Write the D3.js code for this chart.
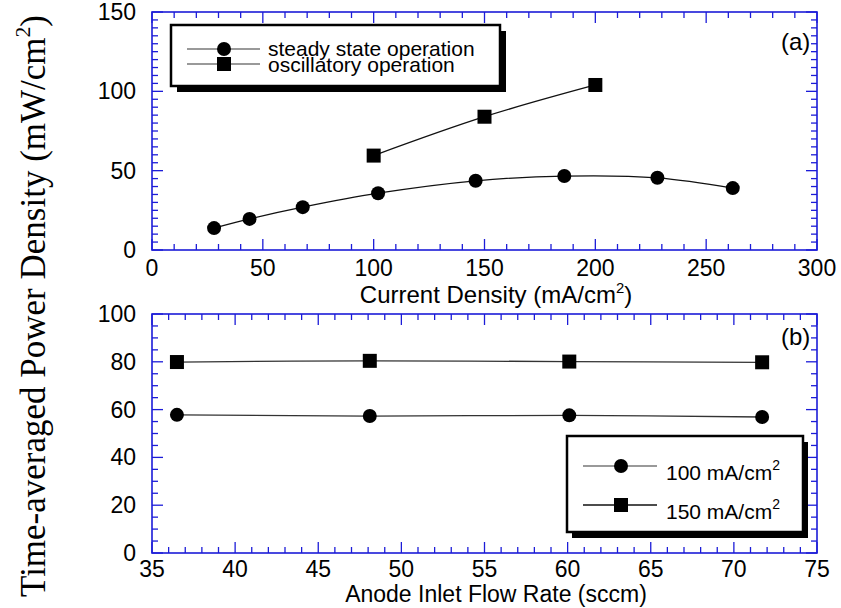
<!DOCTYPE html>
<html><head><meta charset="utf-8">
<script src="https://cdn.jsdelivr.net/npm/d3@7"></script>
<style>body{margin:0;background:#fff}svg{display:block}text{font-family:"Liberation Sans",Arial,sans-serif}</style>
</head><body>
<svg id="c" width="841" height="608"></svg>
<script>
// ---- data ----
const aSteadyX = [28, 44, 68, 102, 146, 186, 228, 262];
const aSteadyY = [13.8, 19.6, 27.0, 35.8, 43.6, 46.6, 45.5, 39.0];
const aOscX = [100, 150, 200];
const aOscY = [59.5, 84.0, 104.0];
const bFlow = [36.5, 48.1, 60.1, 71.7];
const b100 = [57.8, 57.3, 57.6, 56.9];
const b150 = [79.9, 80.4, 80.1, 79.8];
const aXTicks = [0, 50, 100, 150, 200, 250, 300];
const aYTicks = [0, 50, 100, 150];
const bXTicks = [35, 40, 45, 50, 55, 60, 65, 70, 75];
const bYTicks = [0, 20, 40, 60, 80, 100];
const legendA = ["steady state operation", "oscillatory operation"];
const legendB = ["100 mA/cm", "150 mA/cm"];

const svg = d3.select("#c");
const BLUE = "#1c1cd8";
const L = 152, R = 817;

function panel(cfg) {
  const x = d3.scaleLinear().domain(cfg.xd).range([L, R]);
  const y = d3.scaleLinear().domain(cfg.yd).range([cfg.bot, cfg.top]);
  const g = svg.append("g");
  const majX = cfg.xt, majY = cfg.yt;
  const minX = d3.range(cfg.xd[0], cfg.xd[1] + 1e-9, cfg.xm);
  const minY = d3.range(cfg.yd[0], cfg.yd[1] + 1e-9, cfg.ym);
  const isMaj = (arr, v) => arr.some(a => Math.abs(a - v) < 1e-6);
  minX.forEach(v => {
    const len = isMaj(majX, v) ? 11 : 6;
    g.append("line").attr("x1", x(v)).attr("x2", x(v)).attr("y1", cfg.bot).attr("y2", cfg.bot - len).attr("stroke", BLUE).attr("stroke-width", 1.3);
    g.append("line").attr("x1", x(v)).attr("x2", x(v)).attr("y1", cfg.top).attr("y2", cfg.top + len).attr("stroke", BLUE).attr("stroke-width", 1.3);
  });
  minY.forEach(v => {
    const len = isMaj(majY, v) ? 11 : 6;
    g.append("line").attr("y1", y(v)).attr("y2", y(v)).attr("x1", L).attr("x2", L + len).attr("stroke", BLUE).attr("stroke-width", 1.3);
    g.append("line").attr("y1", y(v)).attr("y2", y(v)).attr("x1", R).attr("x2", R - len).attr("stroke", BLUE).attr("stroke-width", 1.3);
  });
  g.append("rect").attr("x", L).attr("y", cfg.top).attr("width", R - L).attr("height", cfg.bot - cfg.top)
    .attr("fill", "none").attr("stroke", BLUE).attr("stroke-width", 1.6);
  majX.forEach(v => g.append("text").attr("x", x(v)).attr("y", cfg.bot + cfg.xlo).attr("text-anchor", "middle")
    .attr("font-size", 23).text(v));
  majY.forEach(v => g.append("text").attr("x", L - 16).attr("y", y(v) + 8).attr("text-anchor", "end")
    .attr("font-size", 23).text(v));
  return {x, y, g};
}

function marker(g, px, py, shape) {
  if (shape === "circle") g.append("circle").attr("cx", px).attr("cy", py).attr("r", 7).attr("fill", "#000");
  else g.append("rect").attr("x", px - 7).attr("y", py - 7).attr("width", 14).attr("height", 14).attr("fill", "#000");
}
function drawSeries(p, xs, ys, shape, color) {
  const pts = xs.map((v, i) => [p.x(v), p.y(ys[i])]);
  p.g.append("path").attr("d", d3.line().curve(d3.curveCatmullRom)(pts))
    .attr("fill", "none").attr("stroke", color || "#111").attr("stroke-width", 1.3);
  pts.forEach(([px, py]) => marker(p.g, px, py, shape));
}

// Panel (a)
const pa = panel({xd: [0, 300], yd: [0, 150], top: 12, bot: 250, xt: aXTicks, yt: aYTicks, xm: 10, ym: 5, xlo: 26});
drawSeries(pa, aSteadyX, aSteadyY, "circle");
drawSeries(pa, aOscX, aOscY, "square");
svg.append("text").attr("x", 781).attr("y", 50).attr("font-size", 24).text("(a)");

// legend (a)
svg.append("rect").attr("x", 177).attr("y", 31).attr("width", 329).attr("height", 61).attr("fill", "#000");
svg.append("rect").attr("x", 171).attr("y", 25).attr("width", 329).attr("height", 61).attr("fill", "#fff").attr("stroke", "#000").attr("stroke-width", 2.5);
[49, 64].forEach((ly, i) => {
  svg.append("line").attr("x1", 187).attr("x2", 260).attr("y1", ly).attr("y2", ly).attr("stroke", "#777").attr("stroke-width", 1.5);
  marker(svg, 224, ly, i === 0 ? "circle" : "square");
});
svg.append("text").attr("x", 268).attr("y", 56).attr("font-size", 21).text(legendA[0]);
svg.append("text").attr("x", 268).attr("y", 72).attr("font-size", 21).text(legendA[1]);

// Panel (b)
const pb = panel({xd: [35, 75], yd: [0, 100], top: 314, bot: 553, xt: bXTicks, yt: bYTicks, xm: 1, ym: 5, xlo: 24});
drawSeries(pb, bFlow, b100, "circle", "#333");
drawSeries(pb, bFlow, b150, "square", "#333");
svg.append("text").attr("x", 781).attr("y", 345).attr("font-size", 24).text("(b)");

// legend (b)
svg.append("rect").attr("x", 572).attr("y", 442).attr("width", 236).attr("height", 96).attr("fill", "#000");
svg.append("rect").attr("x", 567).attr("y", 436).attr("width", 236).attr("height", 96).attr("fill", "#fff").attr("stroke", "#000").attr("stroke-width", 2.5);
[466, 505].forEach((ly, i) => {
  svg.append("line").attr("x1", 583).attr("x2", 657).attr("y1", ly).attr("y2", ly).attr("stroke", i === 0 ? "#777" : "#111").attr("stroke-width", 1.5);
  marker(svg, 621, ly, i === 0 ? "circle" : "square");
  const t = svg.append("text").attr("x", 666).attr("y", ly + 14).attr("font-size", 21);
  t.append("tspan").text(legendB[i]);
  t.append("tspan").attr("dy", -10).attr("font-size", 14).text("2");
});

// axis titles
function titleSup(x, y, base, rest, size) {
  const t = svg.append("text").attr("x", x).attr("y", y).attr("text-anchor", "middle").attr("font-size", size);
  t.append("tspan").text(base);
  t.append("tspan").attr("dy", -size * 0.42).attr("font-size", size * 0.62).text("2");
  t.append("tspan").attr("dy", size * 0.42).text(rest);
  return t;
}
titleSup(496, 303, "Current Density (mA/cm", ")", 24);
svg.append("text").attr("x", 496).attr("y", 602).attr("text-anchor", "middle").attr("font-size", 23).text("Anode Inlet Flow Rate (sccm)");
titleSup(0, 0, "Time-averaged Power Density (mW/cm", ")", 35)
  .attr("transform", "translate(45,306) rotate(-90)")
  .style("font-family", '"Liberation Serif","Times New Roman",serif');
</script>
</body></html>
